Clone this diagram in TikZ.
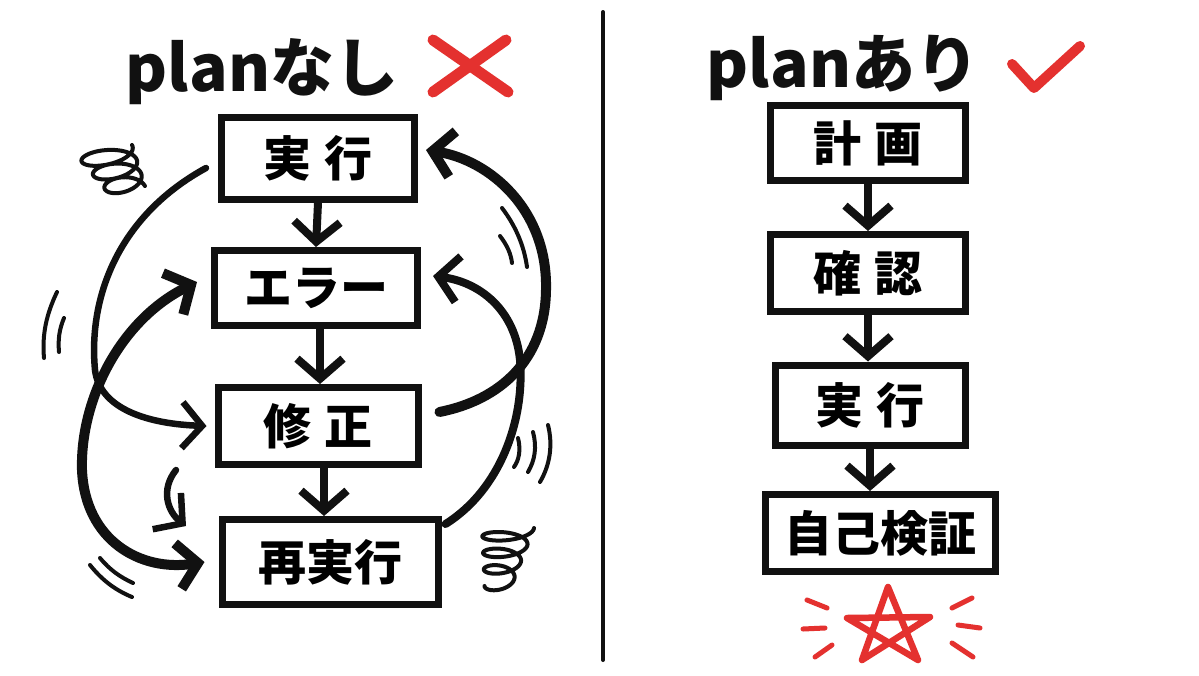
\documentclass[tikz,border=0pt]{standalone}
\usepackage{fontspec}
\newfontfamily\jp{Noto Sans CJK JP}
\usetikzlibrary{arrows.meta}
\definecolor{pen}{HTML}{111111}
\definecolor{marker}{HTML}{E4312F}

\begin{document}
\begin{tikzpicture}[x=1pt, y=-1pt,
    box/.style={draw=pen, line width=7pt, inner sep=0pt, font=\jp\bfseries\fontsize{48}{48}\selectfont},
    title/.style={font=\jp\bfseries\fontsize{64}{64}\selectfont, text=pen},
    flow/.style={pen, line width=8pt, -{Straight Barb[length=20pt, width=46pt]}},
    loopline/.style={pen, line width=6.5pt, line cap=round, -{Straight Barb[length=20pt, width=46pt]}},
    swish/.style={pen, line width=4pt, line cap=round},
    redpen/.style={marker, line width=11pt, line cap=round, line join=round}]
    \useasboundingbox[fill=white] (0,0) rectangle (1199,675);

    % divider
    \draw[pen, line width=4pt, line cap=round] (603,12) -- (603,660);

    % headings
    \node[title] (tL) at (262,72) {planなし};
    \node[title] (tR) at (843,68) {planあり};
    \draw[redpen] (433,40) -- (508,92);
    \draw[redpen] (506,40) -- (433,92);
    \draw[redpen, line width=10pt] (1012,64) -- (1034,88) -- (1080,46);

    % left: trial and error
    \node[box, minimum width=193pt, minimum height=82pt] (L1) at (318,158) {実\hspace{14pt}行};
    \node[box, minimum width=203pt, minimum height=75pt] (L2) at (316,288) {エラー};
    \node[box, minimum width=200pt, minimum height=77pt] (L3) at (318,426) {修\hspace{14pt}正};
    \node[box, minimum width=216pt, minimum height=85pt] (L4) at (330,562) {再実行};

    \draw[flow] (L1.south) -- (L2.north);
    \draw[flow] ([xshift=4pt]L2.south) -- ([xshift=2pt]L3.north);
    \draw[flow] ([xshift=6pt]L3.south) -- ([xshift=-6pt]L4.north);

    \draw[loopline] ([shift={(-12,10)}]L1.west) .. controls (120,215) and (88,295) .. (95,370)
        .. controls (100,410) and (150,424) .. ([xshift=-8pt]L3.west);
    \draw[loopline, line width=10pt, {Straight Barb[length=20pt, width=46pt]}-{Straight Barb[length=20pt, width=46pt]}]
        ([shift={(-14,-6)}]L2.west) .. controls (120,320) and (80,400) .. (82,470)
        .. controls (85,540) and (140,572) .. ([xshift=-14pt]L4.west);
    \draw[loopline, line width=10pt] ([shift={(18,-14)}]L3.east) .. controls (500,400) and (545,360) .. (546,290)
        .. controls (548,210) and (490,160) .. ([shift={(8,-8)}]L1.east);
    \draw[loopline, line width=8pt] ([shift={(4,-38)}]L4.east) .. controls (500,490) and (525,420) .. (520,360)
        .. controls (515,310) and (480,282) .. ([shift={(12,-12)}]L2.east);
    \draw[loopline] (176,470) .. controls (160,490) and (168,512) .. (186,526);

    % swirls
    \draw[swish] plot[domain=0:1080, samples=180, smooth]
        ({104 + 0.022*\x + (28 - 0.010*\x)*cos(\x) + 6*sin(\x)}, {150 + 0.038*\x + 10*sin(\x) - 5*cos(\x)});
    \draw[swish] plot[domain=0:1260, samples=180, smooth]
        ({508 - 0.008*\x + (26 - 0.010*\x)*cos(\x)}, {528 + 0.046*\x + 8*sin(\x)});

    % motion lines
    \draw[swish] (57,292) .. controls (46,315) and (42,335) .. (44,358);
    \draw[swish] (64,318) .. controls (59,330) and (58,340) .. (59,352);
    \draw[swish] (502,208) .. controls (515,225) and (524,245) .. (527,267);
    \draw[swish] (500,236) .. controls (507,245) and (511,254) .. (512,263);
    \draw[swish] (548,425) .. controls (553,445) and (550,465) .. (540,482);
    \draw[swish] (533,432) .. controls (537,447) and (535,460) .. (528,472);
    \draw[swish] (518,438) .. controls (521,450) and (519,460) .. (514,467);
    \draw[swish] (90,565) .. controls (102,580) and (115,590) .. (132,597);
    \draw[swish] (100,558) .. controls (110,570) and (120,577) .. (133,583);

    % right: plan first
    \node[box, minimum width=195pt, minimum height=75pt] (R1) at (868,143) {計\hspace{14pt}画};
    \node[box, minimum width=195pt, minimum height=77pt] (R2) at (868,273) {確\hspace{14pt}認};
    \node[box, minimum width=190pt, minimum height=80pt] (R3) at (870,405) {実\hspace{14pt}行};
    \node[box, minimum width=230pt, minimum height=77pt] (R4) at (880,533) {自己検証};

    \draw[flow] (R1.south) -- (R2.north);
    \draw[flow] (R2.south) -- ([xshift=-2pt]R3.north);
    \draw[flow] (R3.south) -- ([xshift=-10pt]R4.north);

    % star with sparkle
    \draw[redpen, line width=6.5pt] (888,587) -- (862,660) -- (930,617) -- (847,618) -- (918,660) -- cycle;
    \foreach \ax/\ay/\bx/\by in {807/600/827/608, 803/629/825/628, 815/657/832/645,
                                 952/608/972/598, 958/625/980/628, 952/643/973/657}
        \draw[marker, line width=5pt, line cap=round] (\ax,\ay) -- (\bx,\by);
\end{tikzpicture}
\end{document}
